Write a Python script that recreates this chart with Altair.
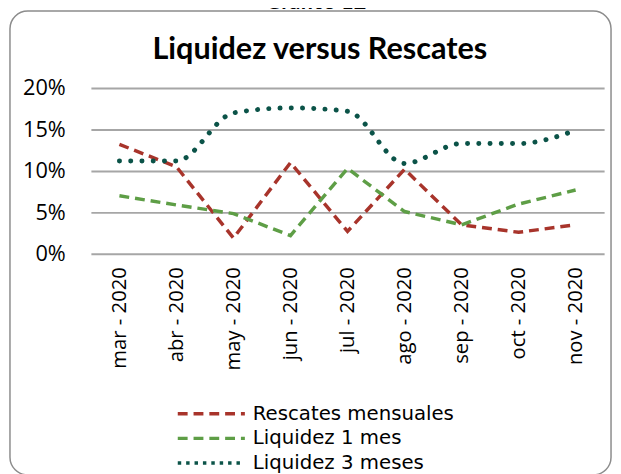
import altair as alt
import pandas as pd

meses = ["mar - 2020", "abr - 2020", "may - 2020", "jun - 2020", "jul - 2020",
         "ago - 2020", "sep - 2020", "oct - 2020", "nov - 2020"]
rescates_mensuales = [0.132, 0.105, 0.019, 0.110, 0.027, 0.102, 0.035, 0.026, 0.035]
liquidez_1_mes = [0.070, 0.059, 0.0485, 0.022, 0.103, 0.051, 0.035, 0.060, 0.077]
liquidez_3_meses = [0.112, 0.112, 0.170, 0.176, 0.172, 0.109, 0.133, 0.133, 0.149]

series = ["Rescates mensuales", "Liquidez 1 mes", "Liquidez 3 meses"]
colores = ["#A8342B", "#5E9E46", "#0B5348"]
guiones = [[10, 6], [10, 6], [3.5, 5]]

rows = []
for nombre, vals in zip(series, [rescates_mensuales, liquidez_1_mes, liquidez_3_meses]):
    for m, v in zip(meses, vals):
        rows.append({"mes": m, "serie": nombre, "valor": v})
df = pd.DataFrame(rows)

legend = alt.Legend(
    title=None, orient="none", legendX=86, legendY=320, padding=0,
    symbolType="stroke", symbolSize=68 * 68, clipHeight=20, rowPadding=5,
    symbolStrokeWidth=3.5, labelFont="DejaVu Sans", labelFontSize=20,
    labelColor="#000000", labelOffset=6, labelLimit=400,
)

x_enc = alt.X("mes:N", sort=meses, title=None,
              axis=alt.Axis(labelAngle=-90, labelAlign="right", labelBaseline="middle",
                            labelFont="Open Sans", labelFontSize=20.5, labelColor="#000000",
                            labelPadding=13, ticks=False, domain=False, grid=False))
y_enc = alt.Y("valor:Q", title=None,
              scale=alt.Scale(domain=[0, 0.2], nice=False),
              axis=alt.Axis(values=[0, 0.05, 0.1, 0.15, 0.2], format=".0%",
                            labelFont="Open Sans", labelFontSize=22, labelColor="#000000",
                            labelPadding=26, ticks=False, domain=False,
                            grid=True, gridColor="#A6A6A6", gridWidth=2))
color_enc = alt.Color("serie:N", sort=series,
                      scale=alt.Scale(domain=series, range=colores), legend=legend)
dash_enc = alt.StrokeDash("serie:N", sort=series,
                          scale=alt.Scale(domain=series, range=guiones), legend=legend)

base = alt.Chart(df)
lineas_rectas = base.transform_filter(
    alt.datum.serie != "Liquidez 3 meses"
).mark_line(strokeWidth=3.5, interpolate="linear").encode(
    x=x_enc, y=y_enc, color=color_enc, strokeDash=dash_enc, detail="serie:N"
)
linea_suave = base.transform_filter(
    alt.datum.serie == "Liquidez 3 meses"
).mark_line(strokeWidth=5, strokeCap="round", strokeDash=[0.1, 11.3],
            interpolate="monotone").encode(
    x=x_enc, y=y_enc, color=color_enc, detail="serie:N"
)

marco = alt.Chart(pd.DataFrame({"k": [0]})).mark_rect(
    fillOpacity=0, stroke="#8C8C8C", strokeWidth=1.5, cornerRadius=18
).encode(x=alt.value(-82), x2=alt.value(527), y=alt.value(-78), y2=alt.value(392))

titulo = alt.Chart(pd.DataFrame({"t": ["Liquidez versus Rescates"]})).mark_text(
    font="Lato", fontSize=31, fontWeight="bold", color="#000000",
    align="center", baseline="alphabetic"
).encode(text="t:N", x=alt.value(232), y=alt.value(-29))

supertitulo = alt.Chart(pd.DataFrame({"t": ["Gráfico 12"]})).mark_text(
    font="Lato", fontSize=22, fontWeight="bold", color="#000000",
    align="center", baseline="alphabetic"
).encode(text="t:N", x=alt.value(228), y=alt.value(-80))

chart = alt.layer(marco, supertitulo, titulo, lineas_rectas, linea_suave).properties(
    width=520, height=168,
    autosize=alt.AutoSizeParams(type="none"),
    padding={"left": 84, "top": 78, "right": 9, "bottom": 220},
).configure_view(strokeOpacity=0)

chart.save("out.html", embed_options={"renderer": "svg", "actions": False})
